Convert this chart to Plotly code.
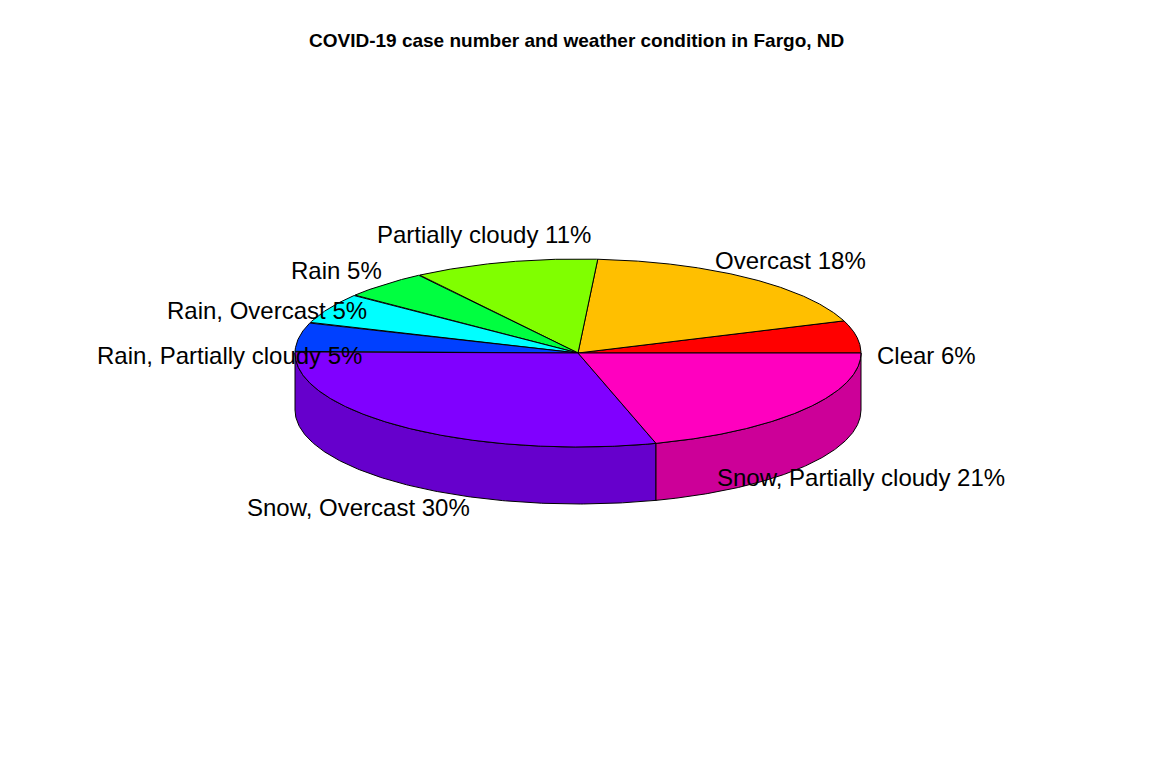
import numpy as np
import plotly.graph_objects as go

# ---- data ----
categories = ["Clear", "Overcast", "Partially cloudy", "Rain", "Rain, Overcast",
              "Rain, Partially cloudy", "Snow, Overcast", "Snow, Partially cloudy"]
values = [20, 66, 38, 18, 19, 18, 107, 74]
colors = ["#FF0000", "#FFBF00", "#80FF00", "#00FF40", "#00FFFF",
          "#0040FF", "#8000FF", "#FF00BF"]
title_text = "COVID-19 case number and weather condition in Fargo, ND"

# ---- geometry / layout constants ----
W, H = 1157, 765
cx, cy = 578, 353
rx, ry = 283, 94
depth = 57
labelrad = 1.25
label_dy = {"Clear": 23, "Overcast": 1, "Partially cloudy": -5, "Rain": 3,
            "Rain, Overcast": 14, "Rain, Partially cloudy": 23,
            "Snow, Overcast": 4, "Snow, Partially cloudy": -3}
label_dx = {"Snow, Overcast": -4, "Partially cloudy": -2}


def shade(hexcol, f=0.8):
    r, g, b = (int(hexcol[i:i + 2], 16) for i in (1, 3, 5))
    return "#%02X%02X%02X" % (int(r * f), int(g * f), int(b * f))


def ex(t):
    return cx + rx * np.cos(t)


def ey(t):
    return cy - ry * np.sin(t)


total = float(sum(values))
fr = np.array(values) / total
ends = np.cumsum(fr) * 2 * np.pi
starts = np.concatenate([[0.0], ends[:-1]])

fig = go.Figure()

# outer walls (front half only: angles pi..2pi)
for s, e, c in zip(starts, ends, colors):
    a0, a1 = max(s, np.pi), min(e, 2 * np.pi)
    if a1 <= a0:
        continue
    t = np.linspace(a0, a1, 200)
    xs = np.concatenate([ex(t), ex(t[::-1]), [ex(t[0])]])
    ys = np.concatenate([ey(t), ey(t[::-1]) + depth, [ey(t[0])]])
    fig.add_trace(go.Scatter(x=xs, y=ys, mode="lines", fill="toself",
                             fillcolor=shade(c), line=dict(color="black", width=1),
                             hoverinfo="skip", showlegend=False))

# top faces
for s, e, c in zip(starts, ends, colors):
    t = np.linspace(s, e, 300)
    xs = np.concatenate([[cx], ex(t), [cx]])
    ys = np.concatenate([[cy], ey(t), [cy]])
    fig.add_trace(go.Scatter(x=xs, y=ys, mode="lines", fill="toself",
                             fillcolor=c, line=dict(color="black", width=1),
                             hoverinfo="skip", showlegend=False))

# labels
pct = [int(np.floor(v + 0.5)) for v in fr * 100]
for name, s, e, p in zip(categories, starts, ends, pct):
    m = (s + e) / 2
    lx = cx + labelrad * rx * np.cos(m) + label_dx.get(name, 0)
    ly = cy - labelrad * ry * np.sin(m)
    if np.sin(m) < 0:
        ly += depth
    ly += label_dy.get(name, 0)
    fig.add_annotation(x=lx, y=ly, text=f"{name} {p}%", showarrow=False,
                       xanchor="center", yanchor="middle",
                       font=dict(family="Liberation Sans, Arial", size=24, color="black"))

fig.add_annotation(x=576, y=40, text=f"<b>{title_text}</b>", showarrow=False,
                   xanchor="center", yanchor="middle",
                   font=dict(family="Liberation Sans, Arial", size=19, color="black"))

fig.update_layout(width=W, height=H, margin=dict(l=0, r=0, t=0, b=0),
                  paper_bgcolor="white", plot_bgcolor="white",
                  xaxis=dict(range=[0, W], visible=False, fixedrange=True),
                  yaxis=dict(range=[H, 0], visible=False, fixedrange=True))

fig.write_html("out.html")
